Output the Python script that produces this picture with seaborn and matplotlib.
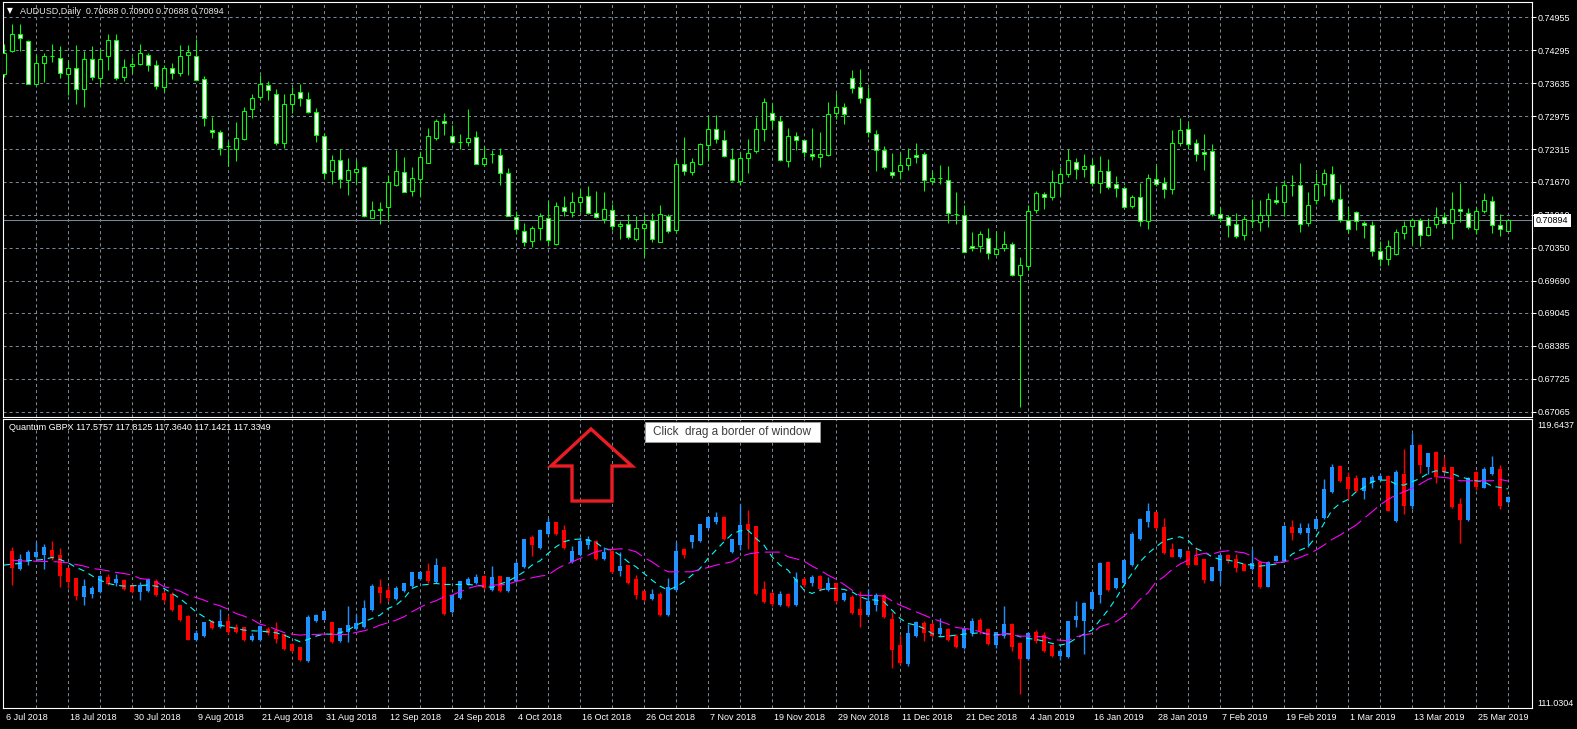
import numpy as np
import matplotlib
matplotlib.use("Agg")
import matplotlib.pyplot as plt
from matplotlib.patches import Polygon, Rectangle
from matplotlib.ticker import FixedLocator
import seaborn as sns

nan = np.nan

# ── AUDUSD daily candles (upper window) ──────────────────────
aud_open = [
    0.7382, 0.7429, 0.7463, 0.7449, 0.7363, 0.7405, 0.7418, 0.7415, 0.7383, 0.7395,
    0.7353, 0.7413, 0.7375, 0.7419, 0.7451, 0.7377, 0.7399, 0.7403, 0.7421, 0.7401,
    0.7357, 0.7395, 0.7385, 0.7421, 0.7419, 0.7373, 0.7271, 0.7267, 0.7238, 0.7233,
    0.7253, 0.7313, 0.7337, 0.7361, 0.7343, 0.7245, 0.7323, 0.7347, 0.7333, 0.7307,
    0.7259, 0.7189, 0.7211, 0.7171, 0.7187, 0.7197, 0.7095, 0.7111, 0.7117, 0.7161,
    0.7187, 0.7149, 0.7173, 0.7205, 0.7255, 0.7289, 0.7259, 0.7247, 0.7247, 0.7257,
    0.7203, 0.7223, 0.7221, 0.7185, 0.7097, 0.7069, 0.7049, 0.7075, 0.7095, 0.7043,
    0.7117, 0.7107, 0.7127, 0.7139, 0.7105, 0.7093, 0.7111, 0.7079, 0.7083, 0.7053,
    0.7075, 0.7091, 0.7047, 0.7099, 0.7071, 0.7203, 0.7187, 0.7203, 0.7241, 0.7273,
    0.7251, 0.7213, 0.7169, 0.7215, 0.7229, 0.7273, 0.7305, 0.7289, 0.7209, 0.7259,
    0.7251, 0.7223, 0.7217, 0.7221, 0.7305, 0.7317, 0.7375, 0.7357, 0.7335, 0.7263,
    0.7231, 0.7187, 0.7189, 0.7201, 0.7221, 0.7223, 0.7169, 0.7175, 0.7171, 0.7103,
    0.7101, 0.7039, 0.7039, 0.7055, 0.7023, 0.7035, 0.7043, 0.6981, 0.6999, 0.7111,
    0.7143, 0.7137, 0.7165, 0.7183, 0.7207, 0.7193, 0.7201, 0.7165, 0.7189, 0.7163,
    0.7155, 0.7119, 0.7137, 0.7089, 0.7173, 0.7165, 0.7153, 0.7245, 0.7273, 0.7245,
    0.7227, 0.7229, 0.7103, 0.7097, 0.7083, 0.7061, 0.7089, 0.7087, 0.7101, 0.7131,
    0.7127, 0.7161, 0.7161, 0.7085, 0.7131, 0.7163, 0.7183, 0.7133, 0.7091, 0.7107,
    0.7085, 0.7081, 0.7029, 0.7013, 0.7023, 0.7065, 0.7079, 0.7091, 0.7061, 0.7083,
    0.7097, 0.7085, 0.7113, 0.7105, 0.7073, 0.7109, 0.7129, 0.7081, 0.70688,
]
aud_high = [
    0.7443, 0.7483, 0.7483, 0.7451, 0.7420, 0.7425, 0.7442, 0.7438, 0.7408, 0.7441,
    0.7429, 0.7438, 0.7433, 0.7463, 0.7463, 0.7413, 0.7417, 0.7442, 0.7425, 0.7411,
    0.7401, 0.7405, 0.7440, 0.7440, 0.7453, 0.7379, 0.7297, 0.7271, 0.7249, 0.7286,
    0.7317, 0.7342, 0.7381, 0.7369, 0.7353, 0.7343, 0.7357, 0.7362, 0.7347, 0.7315,
    0.7265, 0.7221, 0.7233, 0.7215, 0.7211, 0.7199, 0.7129, 0.7127, 0.7181, 0.7230,
    0.7216, 0.7196, 0.7226, 0.7274, 0.7292, 0.7304, 0.7281, 0.7262, 0.7313, 0.7268,
    0.7239, 0.7231, 0.7235, 0.7195, 0.7109, 0.7085, 0.7079, 0.7104, 0.7130, 0.7127,
    0.7138, 0.7147, 0.7153, 0.7158, 0.7149, 0.7147, 0.7123, 0.7089, 0.7103, 0.7099,
    0.7101, 0.7105, 0.7120, 0.7103, 0.7213, 0.7257, 0.7215, 0.7245, 0.7299, 0.7301,
    0.7270, 0.7235, 0.7225, 0.7252, 0.7297, 0.7335, 0.7325, 0.7299, 0.7275, 0.7267,
    0.7253, 0.7275, 0.7267, 0.7327, 0.7345, 0.7325, 0.7391, 0.7393, 0.7357, 0.7271,
    0.7239, 0.7225, 0.7225, 0.7235, 0.7245, 0.7227, 0.7189, 0.7201, 0.7199, 0.7147,
    0.7121, 0.7067, 0.7069, 0.7075, 0.7069, 0.7069, 0.7047, 0.7017, 0.7121, 0.7149,
    0.7147, 0.7191, 0.7197, 0.7233, 0.7215, 0.7223, 0.7213, 0.7219, 0.7213, 0.7179,
    0.7159, 0.7141, 0.7165, 0.7183, 0.7201, 0.7177, 0.7271, 0.7294, 0.7285, 0.7253,
    0.7263, 0.7243, 0.7117, 0.7101, 0.7105, 0.7099, 0.7133, 0.7130, 0.7145, 0.7159,
    0.7171, 0.7181, 0.7205, 0.7147, 0.7185, 0.7193, 0.7199, 0.7163, 0.7119, 0.7109,
    0.7089, 0.7089, 0.7049, 0.7051, 0.7073, 0.7089, 0.7095, 0.7095, 0.7095, 0.7117,
    0.7107, 0.7147, 0.7165, 0.7115, 0.7117, 0.7145, 0.7139, 0.7103, 0.70900,
]
aud_low = [
    0.7377, 0.7427, 0.7429, 0.7363, 0.7360, 0.7367, 0.7407, 0.7375, 0.7341, 0.7322,
    0.7317, 0.7371, 0.7358, 0.7390, 0.7371, 0.7369, 0.7385, 0.7401, 0.7389, 0.7353,
    0.7347, 0.7373, 0.7379, 0.7381, 0.7371, 0.7279, 0.7255, 0.7221, 0.7198, 0.7209,
    0.7251, 0.7295, 0.7331, 0.7331, 0.7241, 0.7235, 0.7305, 0.7318, 0.7305, 0.7247,
    0.7173, 0.7163, 0.7155, 0.7141, 0.7163, 0.7096, 0.7095, 0.7083, 0.7090, 0.7159,
    0.7147, 0.7139, 0.7138, 0.7205, 0.7251, 0.7261, 0.7245, 0.7233, 0.7239, 0.7203,
    0.7199, 0.7205, 0.7161, 0.7099, 0.7063, 0.7038, 0.7037, 0.7051, 0.7040, 0.7041,
    0.7099, 0.7097, 0.7107, 0.7103, 0.7095, 0.7085, 0.7071, 0.7053, 0.7053, 0.7049,
    0.7017, 0.7047, 0.7046, 0.7065, 0.7066, 0.7181, 0.7181, 0.7201, 0.7209, 0.7245,
    0.7217, 0.7169, 0.7161, 0.7185, 0.7225, 0.7249, 0.7273, 0.7209, 0.7197, 0.7231,
    0.7217, 0.7211, 0.7197, 0.7219, 0.7293, 0.7283, 0.7345, 0.7325, 0.7257, 0.7189,
    0.7193, 0.7175, 0.7173, 0.7191, 0.7205, 0.7149, 0.7163, 0.7163, 0.7085, 0.7083,
    0.7027, 0.7029, 0.7027, 0.7013, 0.7021, 0.7029, 0.6979, 0.6717, 0.6991, 0.7105,
    0.7113, 0.7131, 0.7141, 0.7177, 0.7173, 0.7177, 0.7159, 0.7145, 0.7153, 0.7137,
    0.7113, 0.7115, 0.7079, 0.7073, 0.7159, 0.7134, 0.7143, 0.7239, 0.7233, 0.7209,
    0.7191, 0.7099, 0.7087, 0.7057, 0.7055, 0.7051, 0.7077, 0.7069, 0.7077, 0.7123,
    0.7099, 0.7139, 0.7067, 0.7079, 0.7123, 0.7139, 0.7127, 0.7087, 0.7065, 0.7071,
    0.7055, 0.7019, 0.6999, 0.7001, 0.7021, 0.7053, 0.7043, 0.7039, 0.7059, 0.7075,
    0.7083, 0.7053, 0.7087, 0.7073, 0.7063, 0.7105, 0.7065, 0.7059, 0.70688,
]
aud_close = [
    0.7425, 0.7463, 0.7455, 0.7363, 0.7405, 0.7419, 0.7419, 0.7385, 0.7395, 0.7353,
    0.7413, 0.7377, 0.7413, 0.7451, 0.7375, 0.7397, 0.7403, 0.7425, 0.7401, 0.7359,
    0.7395, 0.7385, 0.7419, 0.7427, 0.7371, 0.7295, 0.7267, 0.7235, 0.7238, 0.7255,
    0.7309, 0.7335, 0.7363, 0.7351, 0.7245, 0.7323, 0.7343, 0.7335, 0.7307, 0.7261,
    0.7185, 0.7211, 0.7173, 0.7191, 0.7193, 0.7099, 0.7111, 0.7113, 0.7167, 0.7189,
    0.7147, 0.7175, 0.7217, 0.7259, 0.7289, 0.7285, 0.7247, 0.7247, 0.7255, 0.7203,
    0.7215, 0.7223, 0.7185, 0.7099, 0.7073, 0.7047, 0.7075, 0.7099, 0.7051, 0.7119,
    0.7109, 0.7127, 0.7137, 0.7105, 0.7097, 0.7113, 0.7079, 0.7083, 0.7057, 0.7075,
    0.7083, 0.7053, 0.7103, 0.7069, 0.7203, 0.7189, 0.7207, 0.7243, 0.7273, 0.7253,
    0.7219, 0.7171, 0.7215, 0.7225, 0.7273, 0.7327, 0.7291, 0.7211, 0.7259, 0.7251,
    0.7227, 0.7219, 0.7223, 0.7303, 0.7317, 0.7303, 0.7355, 0.7335, 0.7267, 0.7231,
    0.7197, 0.7181, 0.7201, 0.7215, 0.7217, 0.7171, 0.7175, 0.7175, 0.7105, 0.7103,
    0.7027, 0.7035, 0.7063, 0.7025, 0.7033, 0.7043, 0.6981, 0.7001, 0.7109, 0.7145,
    0.7137, 0.7167, 0.7183, 0.7211, 0.7193, 0.7199, 0.7165, 0.7189, 0.7157, 0.7155,
    0.7117, 0.7137, 0.7089, 0.7175, 0.7163, 0.7153, 0.7245, 0.7271, 0.7243, 0.7223,
    0.7223, 0.7103, 0.7095, 0.7081, 0.7059, 0.7093, 0.7089, 0.7101, 0.7133, 0.7127,
    0.7161, 0.7161, 0.7083, 0.7121, 0.7163, 0.7185, 0.7133, 0.7091, 0.7073, 0.7089,
    0.7081, 0.7029, 0.7013, 0.7039, 0.7067, 0.7079, 0.7091, 0.7061, 0.7077, 0.7097,
    0.7085, 0.7113, 0.7109, 0.7077, 0.7109, 0.7131, 0.7081, 0.7073, 0.70894,
]

# ── Quantum GBPX indicator (lower window) ────────────────────
gbpx_open = [
    nan, 115.72, 115.16, 115.40, 115.52, 115.58, 115.73, 115.60, 115.19, 114.89,
    114.34, 114.41, 114.47, 114.94, 114.74, 114.83, 114.70, 114.47, 114.50, 114.80,
    114.44, 114.41, 114.08, 113.75, 113.03, 113.15, 113.60, 113.42, 113.60, 113.42,
    113.42, 113.03, 113.03, 113.38, 113.35, 113.21, 112.91, 112.82, 112.40, 113.60,
    113.65, 113.57, 113.00, 113.27, 113.36, 113.42, 113.93, 114.62, 114.53, 114.26,
    114.50, 114.65, 114.86, 115.10, 114.77, 115.22, 113.87, 114.29, 114.71, 114.74,
    114.95, 114.53, 114.95, 114.50, 114.80, 115.22, 116.12, 115.79, 116.21, 116.57,
    116.33, 115.39, 115.58, 115.88, 116.00, 115.46, 115.70, 115.10, 115.28, 114.88,
    114.50, 114.26, 114.41, 113.78, 114.53, 115.76, 115.97, 116.00, 116.39, 116.57,
    116.72, 115.67, 115.88, 116.51, 116.45, 114.56, 114.44, 114.08, 114.41, 114.08,
    114.86, 114.74, 114.95, 114.53, 114.74, 114.23, 114.32, 113.96, 113.78, 114.08,
    114.38, 113.66, 112.88, 112.31, 113.15, 113.54, 113.51, 113.21, 113.36, 113.15,
    112.79, 113.24, 113.63, 113.36, 112.88, 113.15, 113.51, 112.94, 112.46, 113.27,
    113.18, 112.88, 112.55, 112.52, 113.63, 113.60, 113.96, 114.38, 115.37, 114.59,
    114.74, 115.28, 116.06, 116.57, 116.87, 116.44, 115.76, 115.52, 115.72, 115.52,
    115.46, 114.82, 115.12, 115.58, 115.46, 115.32, 115.16, 115.39, 114.64, 115.42,
    115.42, 116.44, 116.24, 116.26, 116.38, 116.69, 117.47, 118.27, 117.94, 117.91,
    117.52, 117.76, 117.83, 117.97, 116.60, 118.03, 117.06, 118.89, 118.24, 118.69,
    118.24, 118.22, 117.12, 116.63, 118.08, 117.61, 118.01, 118.18, 117.18,
]
gbpx_high = [
    nan, 115.84, 115.62, 115.74, 115.97, 115.92, 116.01, 115.80, 115.24, 114.91,
    114.87, 114.66, 114.99, 115.02, 115.02, 114.88, 114.74, 114.77, 114.90, 114.86,
    114.52, 114.47, 114.09, 113.79, 113.34, 113.59, 113.64, 113.97, 113.79, 113.51,
    113.43, 113.26, 113.49, 113.43, 113.58, 113.23, 112.94, 112.84, 113.79, 113.82,
    113.93, 113.59, 113.40, 114.06, 113.81, 114.24, 114.72, 114.88, 114.66, 114.66,
    114.76, 115.09, 115.12, 115.34, 115.49, 115.24, 114.40, 114.82, 114.92, 115.01,
    114.99, 115.26, 114.97, 114.94, 115.40, 116.08, 116.18, 116.36, 116.69, 116.59,
    116.48, 115.87, 116.14, 116.15, 116.04, 115.84, 115.73, 115.69, 115.30, 114.98,
    114.52, 114.57, 114.47, 114.90, 115.98, 115.79, 116.20, 116.53, 116.74, 116.87,
    116.76, 116.08, 117.12, 116.94, 116.47, 114.80, 114.47, 114.50, 114.44, 115.08,
    114.92, 114.98, 114.98, 114.92, 114.76, 114.48, 114.39, 114.51, 114.56, 114.44,
    114.41, 113.87, 113.19, 113.53, 113.62, 113.62, 113.57, 113.70, 113.39, 113.22,
    113.38, 113.71, 113.70, 113.38, 113.29, 114.06, 113.54, 112.97, 113.27, 113.33,
    113.28, 112.91, 112.76, 113.62, 114.20, 114.17, 114.50, 115.39, 115.40, 114.91,
    115.48, 116.27, 116.69, 117.14, 116.89, 116.69, 115.94, 115.78, 115.74, 115.82,
    115.48, 115.24, 115.60, 115.62, 115.62, 115.34, 115.76, 115.41, 115.41, 115.59,
    116.48, 116.64, 116.54, 116.54, 116.70, 117.86, 118.31, 118.29, 118.09, 117.99,
    117.94, 117.98, 118.01, 117.99, 118.14, 118.76, 119.26, 118.93, 118.66, 118.71,
    118.52, 118.24, 117.30, 117.93, 118.10, 118.24, 118.57, 118.28, 117.3640,
]
gbpx_low = [
    nan, 114.69, 115.14, 115.29, 115.49, 115.17, 115.44, 114.64, 114.61, 114.24,
    114.09, 114.31, 114.46, 114.69, 114.67, 114.54, 114.45, 114.24, 114.49, 114.37,
    114.14, 113.91, 113.61, 113.04, 113.01, 113.14, 113.37, 113.41, 113.21, 113.25,
    113.00, 113.02, 113.01, 113.19, 112.96, 112.74, 112.67, 112.40, 112.38, 113.59,
    113.63, 112.94, 112.98, 112.98, 113.34, 113.41, 113.92, 114.15, 114.22, 114.24,
    114.49, 114.64, 114.84, 114.74, 114.75, 113.79, 113.85, 114.27, 114.69, 114.72,
    114.57, 114.51, 114.48, 114.48, 114.79, 115.20, 115.57, 115.77, 116.19, 116.19,
    115.77, 115.34, 115.56, 115.76, 115.44, 115.44, 115.04, 114.97, 114.71, 114.26,
    114.21, 114.24, 113.75, 113.76, 114.51, 115.49, 115.79, 115.98, 116.36, 116.51,
    116.04, 115.65, 115.73, 115.77, 114.39, 114.15, 114.06, 114.06, 114.02, 114.06,
    114.64, 114.66, 114.50, 114.51, 114.14, 114.21, 113.82, 113.44, 113.76, 113.91,
    113.70, 112.19, 112.31, 112.27, 113.12, 113.02, 113.13, 113.17, 113.01, 112.80,
    112.77, 113.16, 113.23, 112.89, 112.79, 113.09, 112.72, 111.41, 112.44, 112.94,
    112.68, 112.53, 112.43, 112.49, 113.42, 112.61, 113.94, 114.14, 114.50, 114.57,
    114.72, 115.26, 116.04, 116.44, 116.36, 115.62, 115.52, 115.50, 115.22, 115.28,
    114.74, 114.80, 114.74, 115.34, 115.08, 115.10, 115.14, 114.60, 114.62, 115.40,
    115.39, 116.04, 116.22, 115.84, 116.36, 116.67, 117.45, 117.78, 117.28, 117.49,
    117.28, 117.59, 117.81, 116.90, 116.58, 116.83, 116.98, 118.06, 118.02, 117.74,
    118.04, 117.00, 115.95, 116.61, 117.54, 117.59, 117.99, 116.98, 117.1421,
]
gbpx_close = [
    nan, 115.19, 115.46, 115.67, 115.67, 115.82, 115.49, 114.97, 114.77, 114.37,
    114.65, 114.59, 114.95, 114.71, 114.87, 114.56, 114.47, 114.68, 114.87, 114.38,
    114.23, 113.93, 113.63, 113.05, 113.24, 113.57, 113.39, 113.60, 113.27, 113.27,
    113.03, 113.17, 113.45, 113.24, 113.06, 112.76, 112.70, 112.43, 113.72, 113.78,
    113.90, 112.97, 113.39, 113.48, 113.54, 113.99, 114.65, 114.44, 114.29, 114.59,
    114.74, 115.07, 115.07, 114.80, 115.28, 113.81, 114.38, 114.80, 114.86, 114.92,
    114.59, 114.92, 114.50, 114.92, 115.34, 116.06, 115.88, 116.34, 116.57, 116.21,
    115.79, 115.70, 116.00, 116.06, 115.46, 115.67, 115.07, 115.25, 114.74, 114.38,
    114.23, 114.41, 113.78, 114.62, 115.70, 115.58, 116.18, 116.51, 116.72, 116.72,
    116.06, 116.06, 116.48, 116.33, 114.41, 114.17, 114.11, 114.41, 114.05, 114.86,
    114.68, 114.92, 114.56, 114.74, 114.20, 114.44, 113.84, 113.78, 114.20, 114.38,
    113.72, 112.73, 112.34, 113.24, 113.57, 113.24, 113.15, 113.39, 113.03, 112.82,
    113.36, 113.62, 113.30, 112.91, 113.27, 113.51, 112.82, 112.46, 113.24, 113.00,
    112.70, 112.55, 112.70, 113.60, 113.75, 114.14, 114.47, 115.34, 114.53, 114.89,
    115.43, 116.21, 116.66, 116.90, 116.39, 115.64, 115.54, 115.76, 115.29, 115.30,
    114.84, 115.22, 115.58, 115.40, 115.20, 115.12, 115.36, 114.62, 115.39, 115.57,
    116.46, 116.24, 116.39, 116.39, 116.66, 117.58, 118.24, 117.81, 117.56, 117.52,
    117.91, 117.94, 117.97, 116.92, 118.08, 117.06, 118.88, 118.28, 118.64, 117.94,
    118.08, 117.02, 116.63, 117.91, 117.64, 118.18, 118.22, 117.05, 117.3349,
]
fast_ma = [
    115.29, 115.32, 115.34, 115.42, 115.44, 115.46, 115.52, 115.46, 115.36, 115.22,
    115.12, 114.97, 114.84, 114.74, 114.69, 114.66, 114.67, 114.68, 114.69, 114.66,
    114.59, 114.44, 114.29, 114.09, 113.89, 113.74, 113.59, 113.49, 113.44, 113.39,
    113.34, 113.32, 113.31, 113.29, 113.26, 113.19, 113.09, 112.99, 113.06, 113.16,
    113.22, 113.22, 113.26, 113.34, 113.49, 113.59, 113.69, 113.79, 113.99, 114.09,
    114.29, 114.59, 114.69, 114.71, 114.74, 114.71, 114.71, 114.71, 114.71, 114.69,
    114.66, 114.62, 114.72, 114.81, 114.94, 115.09, 115.29, 115.42, 115.64, 115.84,
    115.99, 116.06, 116.07, 116.04, 115.97, 115.79, 115.74, 115.59, 115.39, 115.24,
    115.04, 114.84, 114.66, 114.54, 114.64, 114.79, 114.99, 115.19, 115.49, 115.74,
    115.99, 116.22, 116.32, 116.34, 116.09, 115.89, 115.54, 115.29, 115.14, 114.84,
    114.54, 114.44, 114.54, 114.59, 114.59, 114.56, 114.49, 114.34, 114.26, 114.24,
    114.19, 113.94, 113.69, 113.54, 113.49, 113.39, 113.24, 113.14, 113.16, 113.19,
    113.22, 113.24, 113.26, 113.22, 113.19, 113.24, 113.22, 113.14, 113.09, 113.06,
    113.01, 112.94, 112.89, 112.94, 113.09, 113.22, 113.34, 113.64, 113.94, 114.29,
    114.69, 115.04, 115.39, 115.64, 115.84, 116.02, 116.09, 116.14, 116.04, 115.79,
    115.69, 115.54, 115.46, 115.44, 115.39, 115.32, 115.29, 115.26, 115.29, 115.32,
    115.39, 115.62, 115.74, 115.84, 116.14, 116.54, 116.94, 117.14, 117.26, 117.49,
    117.62, 117.79, 117.84, 117.84, 117.72, 117.69, 117.79, 117.89, 118.04, 118.12,
    118.09, 118.04, 117.94, 117.88, 117.82, 117.79, 117.66, 117.62, 117.5757,
]
slow_ma = [
    nan, 115.44, 115.42, 115.41, 115.41, 115.40, 115.40, 115.38, 115.36, 115.31,
    115.26, 115.19, 115.16, 115.12, 115.07, 115.04, 114.99, 114.89, 114.86, 114.79,
    114.64, 114.59, 114.51, 114.39, 114.32, 114.24, 114.14, 114.07, 113.97, 113.84,
    113.76, 113.66, 113.52, 113.46, 113.36, 113.27, 113.22, 113.19, 113.21, 113.21,
    113.22, 113.21, 113.21, 113.21, 113.27, 113.32, 113.39, 113.49, 113.56, 113.64,
    113.74, 113.89, 114.02, 114.14, 114.22, 114.34, 114.39, 114.49, 114.59, 114.66,
    114.68, 114.69, 114.70, 114.72, 114.80, 114.86, 114.91, 114.96, 114.99, 115.16,
    115.29, 115.39, 115.49, 115.59, 115.69, 115.74, 115.76, 115.78, 115.76, 115.69,
    115.52, 115.39, 115.22, 115.09, 115.09, 115.09, 115.09, 115.16, 115.22, 115.29,
    115.34, 115.39, 115.54, 115.62, 115.66, 115.68, 115.68, 115.68, 115.54, 115.48,
    115.41, 115.26, 115.14, 114.99, 114.87, 114.71, 114.54, 114.38, 114.38, 114.38,
    114.36, 114.22, 114.09, 113.99, 113.89, 113.79, 113.69, 113.61, 113.52, 113.42,
    113.39, 113.36, 113.29, 113.23, 113.16, 113.24, 113.20, 113.16, 113.16, 113.15,
    113.14, 113.06, 113.04, 113.02, 113.14, 113.19, 113.24, 113.44, 113.52, 113.59,
    113.76, 113.99, 114.26, 114.46, 114.79, 114.94, 115.16, 115.32, 115.44, 115.59,
    115.64, 115.62, 115.69, 115.72, 115.69, 115.66, 115.56, 115.39, 115.34, 115.36,
    115.39, 115.44, 115.52, 115.62, 115.74, 115.89, 116.06, 116.19, 116.34, 116.49,
    116.69, 116.89, 117.09, 117.26, 117.39, 117.49, 117.59, 117.72, 117.86, 117.94,
    117.92, 117.89, 117.82, 117.82, 117.82, 117.82, 117.82, 117.86, 117.8125,
]

# ── Axis texts ────────────────────────────────────────────────
date_labels = [
    "6 Jul 2018", "18 Jul 2018", "30 Jul 2018", "9 Aug 2018", "21 Aug 2018",
    "31 Aug 2018", "12 Sep 2018", "24 Sep 2018", "4 Oct 2018", "16 Oct 2018",
    "26 Oct 2018", "7 Nov 2018", "19 Nov 2018", "29 Nov 2018", "11 Dec 2018",
    "21 Dec 2018", "4 Jan 2019", "16 Jan 2019", "28 Jan 2019", "7 Feb 2019",
    "19 Feb 2019", "1 Mar 2019", "13 Mar 2019", "25 Mar 2019",
]
price_ticks = [0.74955, 0.74295, 0.73635, 0.72975, 0.72315, 0.71670, 0.71010,
               0.70350, 0.69690, 0.69045, 0.68385, 0.67725, 0.67065]
price_tick_labels = ["0.74955", "0.74295", "0.73635", "0.72975", "0.72315",
                     "0.71670", "0.71010", "0.70350", "0.69690", "0.69045",
                     "0.68385", "0.67725", "0.67065"]
last_price = 0.70894
gbpx_range = (111.0304, 119.6437)
top_header = "AUDUSD,Daily  0.70688 0.70900 0.70688 0.70894"
bot_header = "Quantum GBPX 117.5757 117.8125 117.3640 117.1421 117.3349"
tooltip_text = "Click  drag a border of window"

# ── Style ─────────────────────────────────────────────────────
GREEN   = "#00ff00"
BLUE    = "#1e90ff"
RED     = "#ff0000"
CYAN    = "#00ffff"
MAGENTA = "#ff00ff"
GRID    = "#778899"

sns.set_style("dark", {
    "axes.facecolor": "black", "figure.facecolor": "black",
    "axes.edgecolor": "white", "text.color": "white",
    "xtick.color": "white", "ytick.color": "white",
})
plt.rcParams["font.family"] = ["Liberation Sans", "DejaVu Sans"]
plt.rcParams["lines.scale_dashes"] = False
plt.rcParams["axes.axisbelow"] = True

W, H = 1577, 729
fig = plt.figure(figsize=(W / 100, H / 100), dpi=100, facecolor="black")


def pixel_rect(left, top, right, bottom):
    return [left / W, 1 - bottom / H, (right - left) / W, (bottom - top) / H]


ax_top = fig.add_axes(pixel_rect(3, 2, 1532, 416.5))
ax_bot = fig.add_axes(pixel_rect(3, 419, 1532, 708))

n = len(aud_close)
bars = np.arange(n)
grid_idx = np.arange(4, n, 4)
label_idx = np.arange(len(date_labels)) * 8
DASH = (0, (2.2, 2.2))

for ax in (ax_top, ax_bot):
    ax.set_facecolor("black")
    ax.set_xlim(-0.125, 191)
    for sp in ax.spines.values():
        sp.set_color("white")
        sp.set_linewidth(0.8)
    ax.xaxis.remove_overlapping_locs = False
    ax.xaxis.set_minor_locator(FixedLocator(grid_idx))
    ax.grid(True, which="minor", axis="x", color=GRID, linestyle=DASH, linewidth=0.75)
    ax.tick_params(axis="x", which="minor", length=0)

# ── Upper window: AUDUSD candles ─────────────────────────────
o, h, l, c = map(np.asarray, (aud_open, aud_high, aud_low, aud_close))
bull = c >= o
ax_top.axhline(last_price, color=GRID, linewidth=0.75, zorder=1.5)
ax_top.vlines(bars, l, h, color=GREEN, linewidth=0.75, zorder=2)
ax_top.bar(bars, np.abs(c - o), bottom=np.minimum(o, c), width=0.5,
           color=np.where(bull, "black", "white"), edgecolor=GREEN,
           linewidth=0.75, zorder=3)

ax_top.set_ylim(0.66971, 0.75261)
ax_top.yaxis.tick_right()
ax_top.set_yticks(price_ticks)
ax_top.set_yticklabels(price_tick_labels)
ax_top.set_xticks([])
ax_top.tick_params(axis="y", colors="white", labelsize=6.5, length=3,
                   width=0.75, pad=1)
ax_top.grid(True, which="major", axis="y", color=GRID, linestyle=DASH, linewidth=0.75)

ax_top.annotate("\u25bc", xy=(0, 1), xycoords="axes fraction", xytext=(4, -9),
                textcoords="offset pixels", ha="left", va="center",
                fontsize=5.5, color="white", family=["DejaVu Sans"])
ax_top.annotate(top_header, xy=(0, 1), xycoords="axes fraction", xytext=(17, -9),
                textcoords="offset pixels", ha="left", va="center",
                fontsize=6.5, color="#e8e8e8")
ax_top.annotate(f"{last_price:.5f}", xy=(1, last_price),
                xycoords=("axes fraction", "data"), xytext=(4, 0),
                textcoords="offset pixels", ha="left", va="center",
                fontsize=6.5, color="black", zorder=6, annotation_clip=False,
                bbox=dict(boxstyle="square,pad=0.25", fc="white", ec="none"))

# ── Lower window: Quantum GBPX ───────────────────────────────
go, gh, gl, gc = map(np.asarray, (gbpx_open, gbpx_high, gbpx_low, gbpx_close))
ok = ~np.isnan(gc)
up = gc[ok] >= go[ok]
cols = np.where(up, BLUE, RED)
body = np.maximum(np.abs(gc[ok] - go[ok]), 0.03)
ax_bot.vlines(bars[ok], gl[ok], gh[ok], colors=cols, linewidth=1.0, zorder=2)
ax_bot.bar(bars[ok], body, bottom=np.minimum(go[ok], gc[ok]), width=0.6,
           color=cols, linewidth=0, zorder=3)

fast = np.asarray(fast_ma)
slow = np.asarray(slow_ma)
sm = ~np.isnan(slow)
sns.lineplot(x=bars, y=fast, ax=ax_bot, color=CYAN, linewidth=0.8,
             estimator=None, sort=False, legend=False)
ax_bot.lines[-1].set_linestyle((0, (4.5, 3.5)))
ax_bot.lines[-1].set_zorder(4)
sns.lineplot(x=bars[sm], y=slow[sm], ax=ax_bot, color=MAGENTA, linewidth=0.8,
             estimator=None, sort=False, legend=False)
ax_bot.lines[-1].set_linestyle((0, (11, 4)))
ax_bot.lines[-1].set_zorder(4)

ax_bot.set_ylim(111.0037, 119.6737)
ax_bot.set_yticks([])
ax_bot.set_xticks(label_idx)
ax_bot.tick_params(axis="x", which="major", length=10, width=0.75,
                   color="white", direction="out", labelbottom=False)
ax_bot.set_xlabel("")
ax_bot.set_ylabel("")

for i, lab in zip(label_idx, date_labels):
    ax_bot.annotate(lab, xy=(i, 0), xycoords=("data", "axes fraction"),
                    xytext=(2, -10), textcoords="offset pixels",
                    ha="left", va="center", fontsize=6.5, color="white",
                    annotation_clip=False)

ax_bot.annotate(f"{gbpx_range[1]:.4f}", xy=(1, 1), xycoords="axes fraction",
                xytext=(5, -7), textcoords="offset pixels", ha="left",
                va="center", fontsize=6.5, color="white", annotation_clip=False)
ax_bot.annotate(f"{gbpx_range[0]:.4f}", xy=(1, 0), xycoords="axes fraction",
                xytext=(5, 5), textcoords="offset pixels", ha="left",
                va="center", fontsize=6.5, color="white", annotation_clip=False)
ax_bot.annotate(bot_header, xy=(0, 1), xycoords="axes fraction", xytext=(6, -9),
                textcoords="offset pixels", ha="left", va="center",
                fontsize=6.5, color="white")

# ── Overlay: red arrow + tooltip (screen annotation) ─────────
arrow_px = [(591, 429), (632, 466), (612, 466), (612, 501),
            (572, 501), (572, 466), (551, 466)]
arrow = Polygon([(x / W, 1 - y / H) for x, y in arrow_px], closed=True,
                fill=False, edgecolor="#ec1c24", linewidth=2.4,
                joinstyle="miter", transform=fig.transFigure, zorder=10)
fig.add_artist(arrow)

tip = Rectangle((645 / W, 1 - 442 / H), 175 / W, 20 / H,
                transform=fig.transFigure, facecolor="white",
                edgecolor="#9a9a9a", linewidth=0.75, zorder=10)
fig.add_artist(tip)
fig.text(653 / W, 1 - 432 / H, tooltip_text, fontsize=8.5, color="#3c3c3c",
         ha="left", va="center", zorder=11)

fig.savefig("out.png", dpi=100, facecolor="black")
